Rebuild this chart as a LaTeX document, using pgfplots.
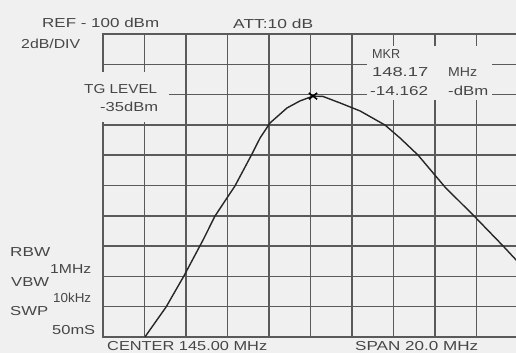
\documentclass[border=0pt]{standalone}
\usepackage{pgfplots}
\pgfplotsset{compat=1.18}
\usepackage{fontspec}
\setmainfont{Liberation Sans}
\usepackage{graphicx}
\definecolor{bg}{RGB}{240,240,240}
\definecolor{gridc}{RGB}{90,90,90}
\definecolor{txt}{RGB}{70,70,70}
\newcommand\tw[2]{\resizebox{#1pt}{\height}{#2}}
\begin{document}
\begin{tikzpicture}[x=1pt,y=1pt,
  lab/.style={anchor=west, inner sep=0pt, text=txt, font=\fontsize{13}{13}\selectfont}]
\fill[bg] (0,0) rectangle (516,353);
\clip (0,0) rectangle (516,353);
\begin{axis}[at={(103pt,16pt)}, anchor=south west, scale only axis,
  width=415pt, height=303pt,
  xmin=135, xmax=155, ymin=-30, ymax=-10,
  xtick={135,137,139,141,143,145,147,149,151,153,155},
  ytick={-30,-28,-26,-24,-22,-20,-18,-16,-14,-12,-10},
  xticklabels={}, yticklabels={}, major tick length=0pt,
  grid=major, grid style={gridc, line width=1.5pt},
  axis line style={gridc, line width=1.5pt}, clip=true]
\addplot[color=black!85, line width=1.4pt, line join=round] coordinates {
(137.02,-30.0) (138.04,-28.02) (138.90,-25.97) (139.82,-23.60) (140.40,-22.01)
(141.36,-20.03) (142.18,-17.92) (142.57,-16.86) (143.05,-15.87) (143.87,-14.88)
(144.49,-14.42) (145.12,-14.10) (145.60,-14.12) (146.42,-14.55) (147.39,-15.08)
(148.59,-16.01) (149.31,-16.86) (150.18,-17.99) (151.48,-20.10) (152.93,-22.08)
(154.28,-23.99) (155.00,-25.05)};
\addplot[only marks, mark=x, mark size=4.5pt, mark options={line width=1.5pt, black, xscale=1.3}] coordinates {(145.12,-14.10)};
\end{axis}
\fill[bg] (60,231) rectangle (169,281);
\fill[bg] (367,253) rectangle (492,307);
\node[lab] at (42,330) {\tw{117}{REF - 100 dBm}};
\node[lab] at (21,309) {\tw{59}{2dB/DIV}};
\node[lab] at (233,329) {\tw{80}{ATT:10 dB}};
\node[lab] at (84,264) {\tw{73}{TG LEVEL}};
\node[lab] at (100,246) {\tw{58}{-35dBm}};
\node[lab] at (372,299) {\tw{28}{MKR}};
\node[lab] at (372,281) {\tw{56}{148.17}};
\node[lab] at (448,281) {\tw{29}{MHz}};
\node[lab] at (370,262) {\tw{58}{-14.162}};
\node[lab] at (448,262) {\tw{40}{-dBm}};
\node[lab] at (10,101) {\tw{40}{RBW}};
\node[lab] at (50,84) {\tw{41}{1MHz}};
\node[lab] at (11,71) {\tw{38}{VBW}};
\node[lab] at (53,55) {\tw{38}{10kHz}};
\node[lab] at (10,42) {\tw{38}{SWP}};
\node[lab] at (52,23) {\tw{43}{50mS}};
\node[lab] at (107,7) {\tw{160}{CENTER 145.00 MHz}};
\node[lab] at (355,7) {\tw{123}{SPAN 20.0 MHz}};
\end{tikzpicture}
\end{document}
